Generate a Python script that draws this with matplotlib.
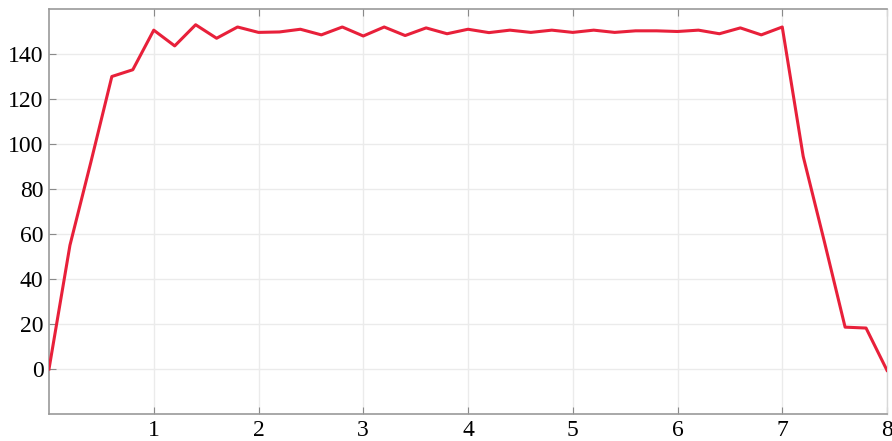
import matplotlib
matplotlib.use("Agg")
import matplotlib.pyplot as plt
import numpy as np

# Sampled speed profile, one sample every 0.2 s
time_s = [0.0, 0.2, 0.4, 0.6, 0.8, 1.0, 1.2, 1.4, 1.6, 1.8,
          2.0, 2.2, 2.4, 2.6, 2.8, 3.0, 3.2, 3.4, 3.6, 3.8,
          4.0, 4.2, 4.4, 4.6, 4.8, 5.0, 5.2, 5.4, 5.6, 5.8,
          6.0, 6.2, 6.4, 6.6, 6.8, 7.0, 7.2, 7.4, 7.6, 7.8, 8.0]
speed = [0.0, 55.0, 92.0, 130.0, 133.0, 150.6, 143.6, 153.0, 147.0, 152.0,
         149.6, 149.8, 151.0, 148.5, 152.0, 148.0, 152.0, 148.2, 151.6, 149.0,
         151.0, 149.5, 150.6, 149.6, 150.6, 149.6, 150.6, 149.6, 150.3, 150.3,
         150.0, 150.6, 149.0, 151.6, 148.5, 152.0, 94.5, 57.0, 18.6, 18.2, -0.6]

x_ticks = [1, 2, 3, 4, 5, 6, 7, 8]
y_ticks = [0, 20, 40, 60, 80, 100, 120, 140]

fig = plt.figure(figsize=(8.92, 4.41), dpi=100)
ax = fig.add_axes([49 / 892, 27 / 441, 838 / 892, 405 / 441])

ax.plot(time_s, speed, color="#e8203a", linewidth=2.2, solid_joinstyle="round", zorder=3)

ax.set_xlim(0, 8)
ax.set_ylim(-20, 160)
ax.set_xticks(x_ticks)
ax.set_yticks(y_ticks)

ax.grid(True, color="#ebebeb", linewidth=1.0)
ax.set_axisbelow(True)

for side in ["left", "bottom", "top"]:
    ax.spines[side].set_color("#9a9a9a")
    ax.spines[side].set_linewidth(1.2)
ax.spines["right"].set_color("#d8d8d8")
ax.spines["right"].set_linewidth(1.0)

ax.tick_params(axis="both", direction="in", length=5, color="#8a8a8a",
               labelsize=17, pad=4, top=True, right=False)
for lbl in ax.get_xticklabels() + ax.get_yticklabels():
    lbl.set_fontfamily("Liberation Serif")

fig.savefig("out.png", dpi=100)
